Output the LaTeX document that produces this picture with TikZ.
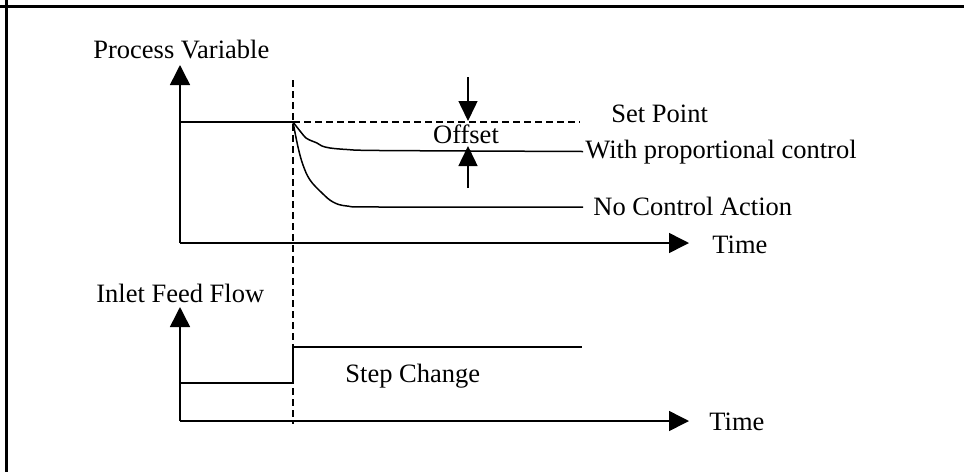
\documentclass[tikz,border=0pt]{standalone}
\usepackage{fontspec}
\setmainfont{Liberation Serif}
\usetikzlibrary{arrows.meta, positioning}
\tikzstyle{axis} = [line width=0.75pt, -{Triangle[length=10pt,width=10pt]}]
\tikzstyle{offarrow} = [line width=0.75pt, -{Triangle[length=10pt,width=9.5pt]}]
\tikzstyle{curve} = [line width=0.75pt]
\tikzstyle{guide} = [line width=0.75pt, dash pattern=on 3.5pt off 2pt]
\tikzstyle{lbl} = [inner sep=0pt, anchor=base west, font=\fontsize{13.25}{15}\selectfont]

\begin{document}
\begin{tikzpicture}[x=0.5pt, y=-0.5pt]
\useasboundingbox (0,0) rectangle (964,472);
\draw [line width=1.5pt] (0,6) -- (964,6);
\draw [line width=1.5pt] (6,0) -- (6,472);

% process variable response
\coordinate (o1) at (180,243);
\coordinate (y1) at (180,65);
\coordinate (x1) at (689,243);
\draw [axis] (o1) -- (y1);
\draw [axis] (o1) -- (x1);
\node [lbl] (pv) at (93,58) {Process Variable};
\node [lbl] (t1) at (712,253) {Time};

\coordinate (s0) at (180,122);
\coordinate (sp) at (293,122);
\coordinate (spend) at (580,122);
\draw [curve] (s0) -- (sp);
\draw [guide] (sp) -- (spend);
\node [lbl] (setpt) at (611,122) {Set Point};

\coordinate (vt) at (293,80);
\coordinate (vb) at (293,424);
\draw [guide] (vt) -- (vb);

\draw [curve] plot [smooth, tension=0.5] coordinates {(293,122) (300,131) (306,138) (312,141) (317,143) (322,146) (330,148) (347,149.5) (380,150.5) (583,151.5)};
\node [lbl] (wpc) at (585,158) {With proportional control};

\draw [curve] plot [smooth, tension=0.6] coordinates {(293,122) (298,147) (303,165) (310,180) (322,193) (333,202) (347,206) (380,207) (583,207)};
\node [lbl] (nca) at (593,215) {No Control Action};

% offset
\coordinate (od0) at (468,77);
\coordinate (od1) at (468,121);
\coordinate (ou0) at (468,188);
\coordinate (ou1) at (468,146);
\draw [offarrow] (od0) -- (od1);
\draw [offarrow] (ou0) -- (ou1);
\node [lbl, anchor=base] (off) at (466,143) {Offset};

% inlet feed flow
\coordinate (o2) at (180,421);
\coordinate (y2) at (180,307);
\coordinate (x2) at (689,421);
\draw [axis] (o2) -- (y2);
\draw [axis] (o2) -- (x2);
\node [lbl] (iff) at (96,302) {Inlet Feed Flow};
\node [lbl] (t2) at (709,430) {Time};

\coordinate (f0) at (180,383);
\coordinate (f1) at (293,383);
\coordinate (f2) at (293,347);
\coordinate (f3) at (582,347);
\draw [curve] (f0) -- (f1) -- (f2) -- (f3);
\node [lbl] (step) at (345,382) {Step Change};
\end{tikzpicture}
\end{document}
